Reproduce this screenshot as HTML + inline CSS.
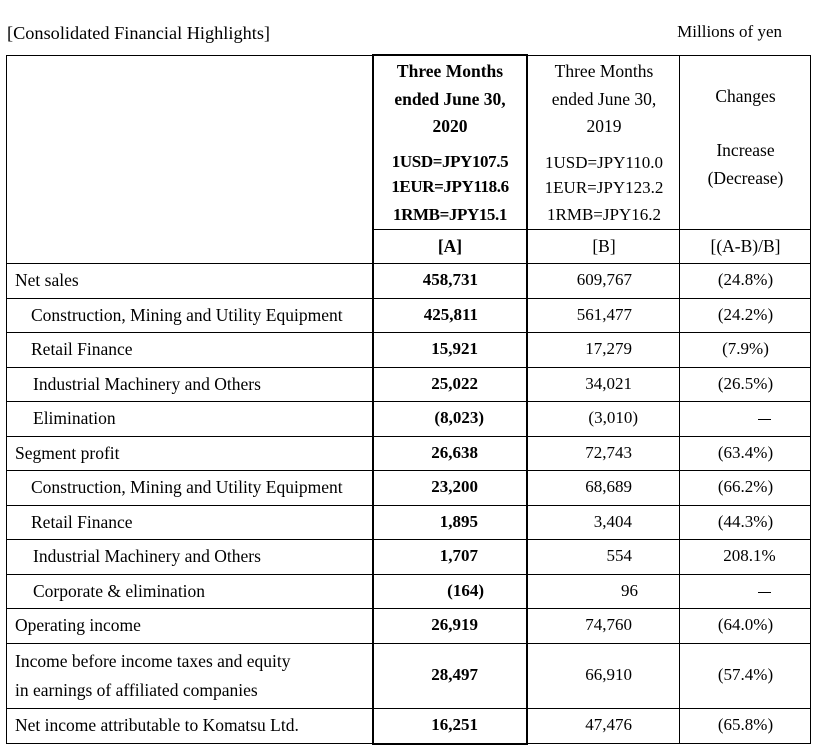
<!DOCTYPE html>
<html>
<head>
<meta charset="utf-8">
<style>
html,body{margin:0;padding:0;background:#fff;}
#c{position:relative;width:821px;height:750px;overflow:hidden;background:#fff;font-family:"Liberation Serif","Times New Roman",serif;font-size:17px;color:#000;}
.t{position:absolute;white-space:nowrap;line-height:20px;height:20px;}
.l{font-size:17.5px;}
.h{position:absolute;background:#000;height:1px;}
.v{position:absolute;background:#000;width:1px;}
.ca{position:absolute;left:374px;width:152px;text-align:center;white-space:nowrap;line-height:20px;height:20px;font-weight:bold;}
.cb{position:absolute;left:528px;width:152px;text-align:center;white-space:nowrap;line-height:20px;height:20px;}
.cc{position:absolute;left:680px;width:131px;text-align:center;white-space:nowrap;line-height:20px;height:20px;}
.na{position:absolute;left:374px;width:104px;text-align:right;white-space:nowrap;line-height:20px;height:20px;font-weight:bold;}
.nb{position:absolute;left:528px;width:104px;text-align:right;white-space:nowrap;line-height:20px;height:20px;}
.p{margin-right:-6px;}
</style>
</head>
<body>
<div id="c">
<!-- titles -->
<div class="t" style="left:7px;top:23px;font-size:18.3px;">[Consolidated Financial Highlights]</div>
<div class="t" style="right:39px;top:22px;">Millions of yen</div>

<!-- horizontal lines -->
<div class="h" style="left:6px;width:805px;top:55px;"></div>
<div class="h" style="left:373px;width:438px;top:229px;"></div>
<div class="h" style="left:6px;width:805px;top:263px;"></div>
<div class="h" style="left:6px;width:805px;top:298px;"></div>
<div class="h" style="left:6px;width:805px;top:332px;"></div>
<div class="h" style="left:6px;width:805px;top:367px;"></div>
<div class="h" style="left:6px;width:805px;top:401px;"></div>
<div class="h" style="left:6px;width:805px;top:436px;"></div>
<div class="h" style="left:6px;width:805px;top:470px;"></div>
<div class="h" style="left:6px;width:805px;top:505px;"></div>
<div class="h" style="left:6px;width:805px;top:539px;"></div>
<div class="h" style="left:6px;width:805px;top:574px;"></div>
<div class="h" style="left:6px;width:805px;top:608px;"></div>
<div class="h" style="left:6px;width:805px;top:643px;"></div>
<div class="h" style="left:6px;width:805px;top:708px;"></div>
<div class="h" style="left:6px;width:805px;top:743px;"></div>

<!-- vertical lines -->
<div class="v" style="left:6px;top:55px;height:689px;"></div>
<div class="v" style="left:679px;top:55px;height:689px;"></div>
<div class="v" style="left:810px;top:55px;height:689px;"></div>
<!-- bold A box -->
<div class="v" style="left:372px;top:54px;height:691px;width:2px;"></div>
<div class="v" style="left:526px;top:54px;height:691px;width:2px;"></div>
<div class="h" style="left:372px;width:156px;top:54px;height:2px;"></div>
<div class="h" style="left:372px;width:156px;top:743px;height:2px;"></div>

<!-- header A -->
<div class="ca l" style="top:61px;">Three Months</div>
<div class="ca l" style="top:89px;">ended June 30,</div>
<div class="ca l" style="top:116px;">2020</div>
<div class="ca" style="top:152px;letter-spacing:-0.4px;">1USD=JPY107.5</div>
<div class="ca" style="top:177px;letter-spacing:-0.4px;">1EUR=JPY118.6</div>
<div class="ca" style="top:205px;letter-spacing:-0.4px;">1RMB=JPY15.1</div>
<div class="ca l" style="top:236px;">[A]</div>

<!-- header B -->
<div class="cb l" style="top:61px;">Three Months</div>
<div class="cb l" style="top:89px;">ended June 30,</div>
<div class="cb l" style="top:116px;">2019</div>
<div class="cb" style="top:153px;">1USD=JPY110.0</div>
<div class="cb" style="top:178px;">1EUR=JPY123.2</div>
<div class="cb" style="top:205px;">1RMB=JPY16.2</div>
<div class="cb l" style="top:236px;">[B]</div>

<!-- header C -->
<div class="cc l" style="top:86px;">Changes</div>
<div class="cc l" style="top:140px;">Increase</div>
<div class="cc l" style="top:168px;">(Decrease)</div>
<div class="cc l" style="top:236px;">[(A-B)/B]</div>

<!-- row labels -->
<div class="t l" style="left:15px;top:270px;">Net sales</div>
<div class="t l" style="left:31px;top:305px;">Construction, Mining and Utility Equipment</div>
<div class="t l" style="left:31px;top:339px;">Retail Finance</div>
<div class="t l" style="left:33px;top:374px;">Industrial Machinery and Others</div>
<div class="t l" style="left:33px;top:408px;">Elimination</div>
<div class="t l" style="left:15px;top:443px;">Segment profit</div>
<div class="t l" style="left:31px;top:477px;">Construction, Mining and Utility Equipment</div>
<div class="t l" style="left:31px;top:512px;">Retail Finance</div>
<div class="t l" style="left:33px;top:546px;">Industrial Machinery and Others</div>
<div class="t l" style="left:33px;top:581px;">Corporate &amp; elimination</div>
<div class="t l" style="left:15px;top:615px;">Operating income</div>
<div class="t l" style="left:15px;top:651px;">Income before income taxes and equity</div>
<div class="t l" style="left:15px;top:680px;">in earnings of affiliated companies</div>
<div class="t l" style="left:15px;top:715px;">Net income attributable to Komatsu Ltd.</div>

<!-- column A values -->
<div class="na" style="top:270px;">458,731</div>
<div class="na" style="top:305px;">425,811</div>
<div class="na" style="top:339px;">15,921</div>
<div class="na" style="top:374px;">25,022</div>
<div class="na" style="top:408px;">(8,023<span class="p">)</span></div>
<div class="na" style="top:443px;">26,638</div>
<div class="na" style="top:477px;">23,200</div>
<div class="na" style="top:512px;">1,895</div>
<div class="na" style="top:546px;">1,707</div>
<div class="na" style="top:581px;">(164<span class="p">)</span></div>
<div class="na" style="top:615px;">26,919</div>
<div class="na" style="top:665px;">28,497</div>
<div class="na" style="top:715px;">16,251</div>

<!-- column B values -->
<div class="nb" style="top:270px;">609,767</div>
<div class="nb" style="top:305px;">561,477</div>
<div class="nb" style="top:339px;">17,279</div>
<div class="nb" style="top:374px;">34,021</div>
<div class="nb" style="top:408px;">(3,010<span class="p">)</span></div>
<div class="nb" style="top:443px;">72,743</div>
<div class="nb" style="top:477px;">68,689</div>
<div class="nb" style="top:512px;">3,404</div>
<div class="nb" style="top:546px;">554</div>
<div class="nb" style="top:581px;width:110px;">96</div>
<div class="nb" style="top:615px;">74,760</div>
<div class="nb" style="top:665px;">66,910</div>
<div class="nb" style="top:715px;">47,476</div>

<!-- column C values -->
<div class="cc" style="top:270px;">(24.8%)</div>
<div class="cc" style="top:305px;">(24.2%)</div>
<div class="cc" style="top:339px;">(7.9%)</div>
<div class="cc" style="top:374px;">(26.5%)</div>
<div class="h" style="left:758px;width:13px;top:419px;"></div>
<div class="cc" style="top:443px;">(63.4%)</div>
<div class="cc" style="top:477px;">(66.2%)</div>
<div class="cc" style="top:512px;">(44.3%)</div>
<div class="cc" style="top:546px;left:684px;">208.1%</div>
<div class="h" style="left:758px;width:13px;top:592px;"></div>
<div class="cc" style="top:615px;">(64.0%)</div>
<div class="cc" style="top:665px;">(57.4%)</div>
<div class="cc" style="top:715px;">(65.8%)</div>
</div>
</body>
</html>
